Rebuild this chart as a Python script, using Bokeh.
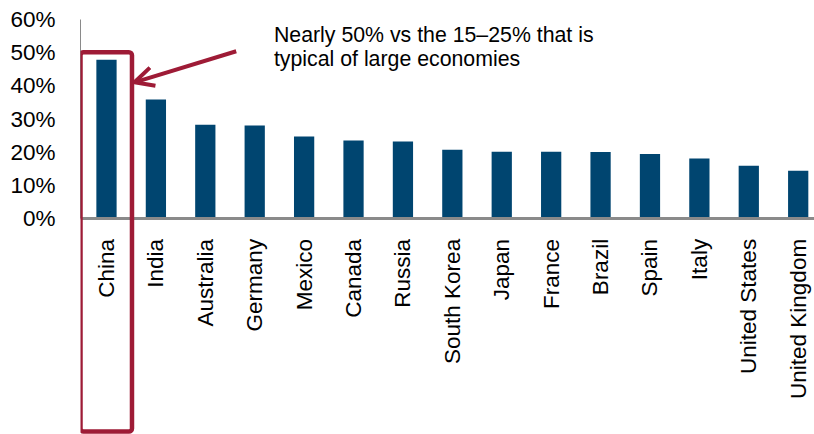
import math
from bokeh.plotting import figure
from bokeh.models import (Range1d, FixedTicker, NumeralTickFormatter, BoxAnnotation,
                          Arrow, OpenHead, Label)
from bokeh.embed import file_html
from bokeh.resources import INLINE

# ---- data ----
countries = ["China", "India", "Australia", "Germany", "Mexico", "Canada", "Russia",
             "South Korea", "Japan", "France", "Brazil", "Spain", "Italy",
             "United States", "United Kingdom"]
shares = [0.479, 0.359, 0.283, 0.281, 0.248, 0.236, 0.233,
          0.208, 0.202, 0.202, 0.201, 0.195, 0.182, 0.160, 0.145]
y_ticks = [0.0, 0.1, 0.2, 0.3, 0.4, 0.5, 0.6]
note_lines = ["Nearly 50% vs the 15\u201325% that is", "typical of large economies"]

idx = list(range(len(countries)))

FONT = "Liberation Sans"
BLUE = "#004570"
RED = "#9E1B36"
GRAY = "#8a8a8a"

p = figure(width=814, height=434, output_backend="svg", toolbar_location=None,
           x_range=Range1d(-0.526, 14.33), y_range=Range1d(-0.649, 0.6),
           min_border_left=80, min_border_right=0, min_border_top=19, min_border_bottom=0)
p.outline_line_color = None
p.grid.visible = False
p.background_fill_color = "white"
p.border_fill_color = "white"

p.vbar(x=idx, top=shares, bottom=0, width=0.41, fill_color=BLUE, line_color=None)

# y axis
ya = p.yaxis[0]
ya.ticker = FixedTicker(ticks=y_ticks)
ya.formatter = NumeralTickFormatter(format="0%")
ya.bounds = (0, 0.6)
ya.axis_line_color = GRAY
ya.axis_line_width = 1
ya.major_tick_line_color = None
ya.minor_tick_line_color = None
ya.major_label_standoff = 19
ya.major_label_text_font = FONT
ya.major_label_text_font_size = "22.5px"
ya.major_label_text_color = "black"

# x axis at y = 0
xa = p.xaxis[0]
xa.fixed_location = 0
xa.ticker = FixedTicker(ticks=idx)
xa.major_label_overrides = {i: c for i, c in zip(idx, countries)}
xa.major_label_orientation = math.pi / 2
xa.axis_line_color = GRAY
xa.axis_line_width = 3
xa.major_tick_line_color = None
xa.minor_tick_line_color = None
xa.major_label_standoff = 14
xa.major_label_text_font = FONT
xa.major_label_text_font_size = "22.5px"
xa.major_label_text_color = "black"

# highlight box around China
box = BoxAnnotation(left=-0.526, right=0.516, top=0.5015, bottom=-0.640,
                    fill_alpha=0, line_color=RED, line_alpha=1.0, line_width=4.5,
                    border_radius=3)
p.add_layout(box)

arrow = Arrow(x_start=2.626, y_start=0.5045, x_end=0.567, y_end=0.411,
              line_color=RED, line_width=4,
              end=OpenHead(size=19, line_color=RED, line_width=4))
p.add_layout(arrow)

for line, yy in zip(note_lines, [0.552, 0.4816]):
    p.add_layout(Label(x=3.389, y=yy, text=line, text_font=FONT, text_font_size="21.3px",
                       text_color="black", text_baseline="alphabetic", text_align="left"))

open("out.html", "w").write(file_html(p, INLINE))
